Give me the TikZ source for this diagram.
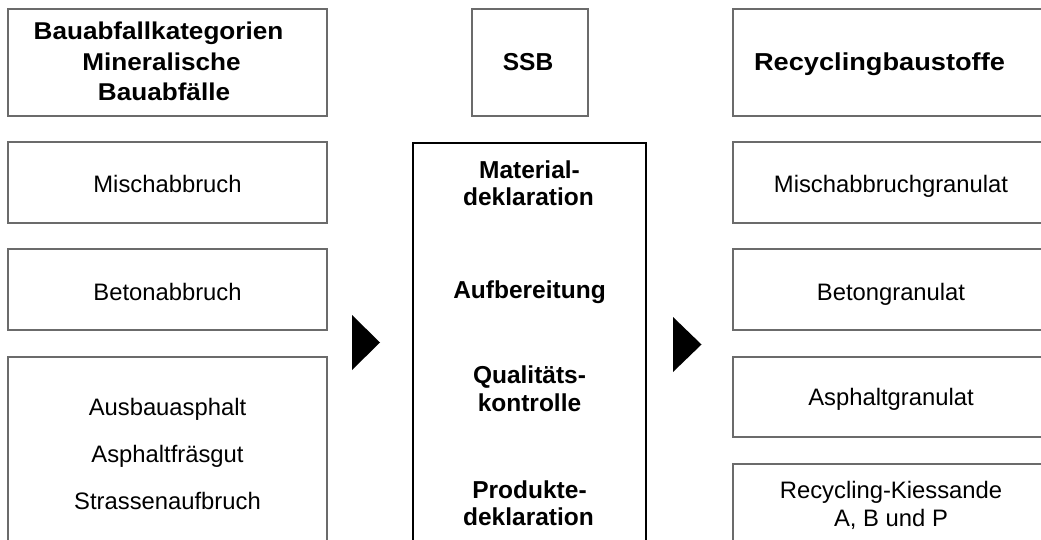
\documentclass[tikz,border=0pt]{standalone}
\usepackage{fontspec}
\setmainfont{Liberation Sans}
\newfontfamily\hdwideL[FakeStretch=1.075]{Liberation Sans}
\newfontfamily\hdwideR[FakeStretch=1.11]{Liberation Sans}
\begin{document}
\begin{tikzpicture}[x=1pt,y=-1pt,
  box/.style={draw=black!58, line width=1.3pt, rectangle, inner sep=0pt},
  procbox/.style={draw=black, line width=2.2pt, rectangle, inner sep=0pt},
  reg/.style={anchor=base, inner sep=0pt, font=\fontsize{23.8}{28}\selectfont},
  hd/.style={anchor=base, inner sep=0pt, font=\fontsize{24.5}{30}\selectfont\bfseries},
  hdl/.style={anchor=base, inner sep=0pt, font=\fontsize{24.3}{30}\hdwideL\bfseries},
  hdr/.style={anchor=base, inner sep=0pt, font=\fontsize{24.5}{30}\hdwideR\bfseries},
  tri/.style={fill=black, draw=none}]
\useasboundingbox (0,0) rectangle (1041,540);
\clip (0,0) rectangle (1041,540);
% left column boxes
\node[box, minimum width=319pt, minimum height=107pt] (L0) at (167.5,62.5) {};
\node[box, minimum width=319pt, minimum height=81pt] (L1) at (167.5,182.5) {};
\node[box, minimum width=319pt, minimum height=81pt] (L2) at (167.5,289.5) {};
\node[box, minimum width=319pt, minimum height=200pt] (L3) at (167.5,457) {};
% middle
\node[box, minimum width=116pt, minimum height=107pt] (M0) at (530,62.5) {};
\node[procbox, minimum width=233pt, minimum height=420pt] (M1) at (529.5,353) {};
% right column boxes
\node[box, minimum width=316pt, minimum height=107pt] (R0) at (891,62.5) {};
\node[box, minimum width=316pt, minimum height=81pt] (R1) at (891,182.5) {};
\node[box, minimum width=316pt, minimum height=81pt] (R2) at (891,289.5) {};
\node[box, minimum width=316pt, minimum height=80pt] (R3) at (891,397) {};
\node[box, minimum width=316pt, minimum height=90pt] (R4) at (891,509) {};
% texts left
\node[hdl] (lt1) at (158.5,39.3) {Bauabfallkategorien};
\node[hdl] (lt2) at (161.5,70.5) {Mineralische};
\node[hdl] (lt3) at (164,101) {Bauabfälle};
\node[reg] (l1) at (167.5,193) {Mischabbruch};
\node[reg] (l2) at (167.5,300) {Betonabbruch};
\node[reg] (l3a) at (167.5,415) {Ausbauasphalt};
\node[reg] (l3b) at (167.5,462) {Asphaltfräsgut};
\node[reg] (l3c) at (167.5,509) {Strassenaufbruch};
% texts middle
\node[hd] (mt) at (528,70.7) {SSB};
\node[hd] (m1a) at (529.5,178.3) {Material-};
\node[hd] (m1b) at (528.5,205.7) {deklaration};
\node[hd] (m2) at (529.5,298) {Aufbereitung};
\node[hd] (m3a) at (529.5,383) {Qualitäts-};
\node[hd] (m3b) at (529.5,411) {kontrolle};
\node[hd] (m4a) at (529.5,498) {Produkte-};
\node[hd] (m4b) at (528.5,525.5) {deklaration};
% texts right
\node[hdr] (rt) at (879.5,70.7) {Recyclingbaustoffe};
\node[reg] (r1) at (891,193) {Mischabbruchgranulat};
\node[reg] (r2) at (891,300) {Betongranulat};
\node[reg] (r3) at (891,405) {Asphaltgranulat};
\node[reg] (r4a) at (891,498.7) {Recycling-Kiessande};
\node[reg] (r4b) at (891,526.7) {A, B und P};
% arrows
\coordinate (a1t) at (352,315);
\coordinate (a1p) at (380,342.5);
\coordinate (a1b) at (352,370);
\coordinate (a2t) at (673,317);
\coordinate (a2p) at (701.5,344.5);
\coordinate (a2b) at (673,372);
\fill[tri] (a1t) -- (a1p) -- (a1b) -- cycle;
\fill[tri] (a2t) -- (a2p) -- (a2b) -- cycle;
\end{tikzpicture}
\end{document}
